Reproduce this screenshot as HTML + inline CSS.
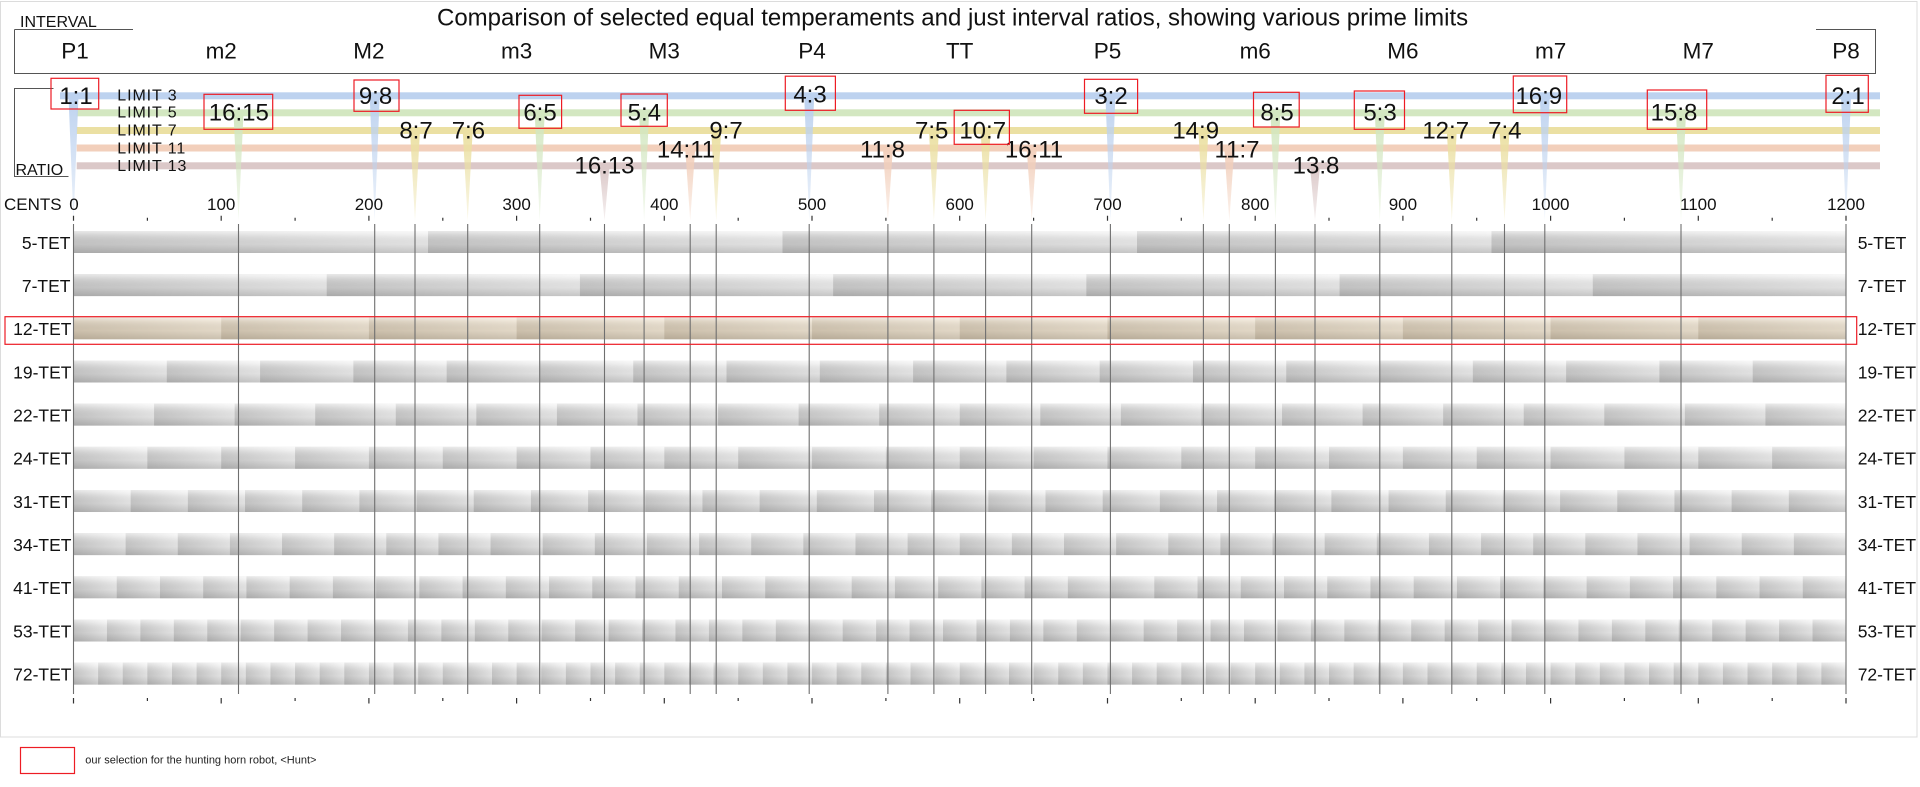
<!DOCTYPE html>
<html>
<head>
<meta charset="utf-8">
<style>
  html, body { margin:0; padding:0; background:#fff; }
  svg { display:block; }
  text { font-family: "Liberation Sans", Arial, sans-serif; fill:#111; }
</style>
</head>
<body>
<svg width="1920" height="787" viewBox="0 0 1920 787" xmlns="http://www.w3.org/2000/svg">
  <defs>
    <linearGradient id="g" x1="0" y1="1" x2="1" y2="0">
      <stop offset="0" stop-color="#b5b5b5"/>
      <stop offset="1" stop-color="#f4f4f4"/>
    </linearGradient>
    <linearGradient id="gb" x1="0" y1="1" x2="1" y2="0">
      <stop offset="0" stop-color="#c3b6a1"/>
      <stop offset="1" stop-color="#efe6d7"/>
    </linearGradient>
    <linearGradient id="gloss" x1="0" y1="0" x2="0" y2="1">
      <stop offset="0" stop-color="#ffffff" stop-opacity="0.45"/>
      <stop offset="0.18" stop-color="#ffffff" stop-opacity="0.1"/>
      <stop offset="0.6" stop-color="#000000" stop-opacity="0"/>
      <stop offset="1" stop-color="#000000" stop-opacity="0.07"/>
    </linearGradient>
    <linearGradient id="s3" x1="0" y1="0" x2="0" y2="1"><stop offset="0" stop-color="#bdd2ef"/><stop offset="1" stop-color="#bdd2ef" stop-opacity="0.25"/></linearGradient>
    <linearGradient id="s5" x1="0" y1="0" x2="0" y2="1"><stop offset="0" stop-color="#d3e7c1"/><stop offset="1" stop-color="#d3e7c1" stop-opacity="0.25"/></linearGradient>
    <linearGradient id="s7" x1="0" y1="0" x2="0" y2="1"><stop offset="0" stop-color="#ebe0a3"/><stop offset="1" stop-color="#ebe0a3" stop-opacity="0.25"/></linearGradient>
    <linearGradient id="s11" x1="0" y1="0" x2="0" y2="1"><stop offset="0" stop-color="#f2cfbb"/><stop offset="1" stop-color="#f2cfbb" stop-opacity="0.25"/></linearGradient>
    <linearGradient id="s13" x1="0" y1="0" x2="0" y2="1"><stop offset="0" stop-color="#dbc8c8"/><stop offset="1" stop-color="#dbc8c8" stop-opacity="0.25"/></linearGradient>

    <pattern id="p5" patternUnits="userSpaceOnUse" x="73.5" y="231" width="354.5" height="22"><rect width="354.5" height="22" fill="url(#g)"/></pattern>
    <pattern id="p7" patternUnits="userSpaceOnUse" x="73.5" y="274.17" width="253.214" height="22"><rect width="253.214" height="22" fill="url(#g)"/></pattern>
    <pattern id="p12" patternUnits="userSpaceOnUse" x="73.5" y="317.34" width="147.708" height="22"><rect width="147.708" height="22" fill="url(#gb)"/></pattern>
    <pattern id="p19" patternUnits="userSpaceOnUse" x="73.5" y="360.51" width="93.289" height="22"><rect width="93.289" height="22" fill="url(#g)"/></pattern>
    <pattern id="p22" patternUnits="userSpaceOnUse" x="73.5" y="403.68" width="80.568" height="22"><rect width="80.568" height="22" fill="url(#g)"/></pattern>
    <pattern id="p24" patternUnits="userSpaceOnUse" x="73.5" y="446.85" width="73.854" height="22"><rect width="73.854" height="22" fill="url(#g)"/></pattern>
    <pattern id="p31" patternUnits="userSpaceOnUse" x="73.5" y="490.02" width="57.177" height="22"><rect width="57.177" height="22" fill="url(#g)"/></pattern>
    <pattern id="p34" patternUnits="userSpaceOnUse" x="73.5" y="533.19" width="52.132" height="22"><rect width="52.132" height="22" fill="url(#g)"/></pattern>
    <pattern id="p41" patternUnits="userSpaceOnUse" x="73.5" y="576.36" width="43.232" height="22"><rect width="43.232" height="22" fill="url(#g)"/></pattern>
    <pattern id="p53" patternUnits="userSpaceOnUse" x="73.5" y="619.53" width="33.443" height="22"><rect width="33.443" height="22" fill="url(#g)"/></pattern>
    <pattern id="p72" patternUnits="userSpaceOnUse" x="73.5" y="662.7" width="24.618" height="22"><rect width="24.618" height="22" fill="url(#g)"/></pattern>
  </defs>

  <!-- outer frame -->
  <rect x="0.5" y="1.5" width="1916.5" height="735.5" fill="none" stroke="#dcdcdc" stroke-width="1"/>

  <!-- title -->
  <text x="437" y="25.5" font-size="24">Comparison of selected equal temperaments and just interval ratios, showing various prime limits</text>

  <!-- INTERVAL header -->
  <text x="20" y="27" font-size="16">INTERVAL</text>
  <path d="M14.5 29.5 H133 M14.5 29.5 V73.5 H1875.5 V29.5 H1816" fill="none" stroke="#555" stroke-width="1"/>
  <g font-size="22.5" text-anchor="middle">
    <text x="75" y="58.3">P1</text>
    <text x="221.2" y="58.3">m2</text>
    <text x="368.9" y="58.3">M2</text>
    <text x="516.6" y="58.3">m3</text>
    <text x="664.3" y="58.3">M3</text>
    <text x="812" y="58.3">P4</text>
    <text x="959.7" y="58.3">TT</text>
    <text x="1107.5" y="58.3">P5</text>
    <text x="1255.2" y="58.3">m6</text>
    <text x="1402.9" y="58.3">M6</text>
    <text x="1550.6" y="58.3">m7</text>
    <text x="1698.3" y="58.3">M7</text>
    <text x="1846" y="58.3">P8</text>
  </g>

  <!-- RATIO bracket -->
  <path d="M53.5 88.5 H14.5 V176.5 H68.5" fill="none" stroke="#555" stroke-width="1"/>
  <text x="15.5" y="175" font-size="16">RATIO</text>

  <!-- limit bands -->
  <rect x="60" y="92.3" width="1820" height="7" fill="#bdd2ef"/>
  <rect x="76.7" y="109.3" width="1803.3" height="7" fill="#d3e7c1"/>
  <rect x="76.7" y="127" width="1803.3" height="7" fill="#ebe0a3"/>
  <rect x="76.7" y="144.5" width="1803.3" height="7" fill="#f2cfbb"/>
  <rect x="76.7" y="162.3" width="1803.3" height="7" fill="#dbc8c8"/>

  <g font-size="16" letter-spacing="0.9">
    <text x="117.3" y="100.3">LIMIT 3</text>
    <text x="117.3" y="117.7">LIMIT 5</text>
    <text x="117.3" y="135.5">LIMIT 7</text>
    <text x="117.3" y="153.3">LIMIT 11</text>
    <text x="117.3" y="171">LIMIT 13</text>
  </g>

  <!-- spikes -->
  <g>
    <polygon points="68.5,96 78.5,96 73.5,221" fill="url(#s3)"/>
    <polygon points="233.5,113 243.5,113 238.5,221" fill="url(#s5)"/>
    <polygon points="369.7,96 379.7,96 374.7,221" fill="url(#s3)"/>
    <polygon points="410,130.5 420,130.5 415,221" fill="url(#s7)"/>
    <polygon points="462.7,130.5 472.7,130.5 467.7,221" fill="url(#s7)"/>
    <polygon points="534.7,113 544.7,113 539.7,221" fill="url(#s5)"/>
    <polygon points="599.5,166 609.5,166 604.5,221" fill="url(#s13)"/>
    <polygon points="639.1,113 649.1,113 644.1,221" fill="url(#s5)"/>
    <polygon points="685.2,148 695.2,148 690.2,221" fill="url(#s11)"/>
    <polygon points="711.2,130.5 721.2,130.5 716.2,221" fill="url(#s7)"/>
    <polygon points="804.2,96 814.2,96 809.2,221" fill="url(#s3)"/>
    <polygon points="882.9,148 892.9,148 887.9,221" fill="url(#s11)"/>
    <polygon points="928.9,130.5 938.9,130.5 933.9,221" fill="url(#s7)"/>
    <polygon points="980.6,130.5 990.6,130.5 985.6,221" fill="url(#s7)"/>
    <polygon points="1026.7,148 1036.7,148 1031.7,221" fill="url(#s11)"/>
    <polygon points="1105.4,96 1115.4,96 1110.4,221" fill="url(#s3)"/>
    <polygon points="1198.4,130.5 1208.4,130.5 1203.4,221" fill="url(#s7)"/>
    <polygon points="1224.3,148 1234.3,148 1229.3,221" fill="url(#s11)"/>
    <polygon points="1270.4,113 1280.4,113 1275.4,221" fill="url(#s5)"/>
    <polygon points="1310,166 1320,166 1315,221" fill="url(#s13)"/>
    <polygon points="1374.8,113 1384.8,113 1379.8,221" fill="url(#s5)"/>
    <polygon points="1446.8,130.5 1456.8,130.5 1451.8,221" fill="url(#s7)"/>
    <polygon points="1499.5,130.5 1509.5,130.5 1504.5,221" fill="url(#s7)"/>
    <polygon points="1539.8,96 1549.8,96 1544.8,221" fill="url(#s3)"/>
    <polygon points="1676,113 1686,113 1681,221" fill="url(#s5)"/>
    <polygon points="1841,96 1851,96 1846,221" fill="url(#s3)"/>
  </g>

  <!-- ratio labels -->
  <g font-size="24" text-anchor="middle">
    <text x="76" y="104">1:1</text>
    <text x="238.8" y="120.7">16:15</text>
    <text x="375.5" y="104">9:8</text>
    <text x="416" y="138.3">8:7</text>
    <text x="468.4" y="138.3">7:6</text>
    <text x="540" y="120.7">6:5</text>
    <text x="604.5" y="173.3">16:13</text>
    <text x="644.3" y="120.7">5:4</text>
    <text x="686" y="157.3">14:11</text>
    <text x="726" y="138.3">9:7</text>
    <text x="810" y="102.7">4:3</text>
    <text x="882.5" y="157.3">11:8</text>
    <text x="931.7" y="138.3">7:5</text>
    <text x="982.7" y="138.3">10:7</text>
    <text x="1034" y="157.3">16:11</text>
    <text x="1111" y="104">3:2</text>
    <text x="1195.7" y="138.3">14:9</text>
    <text x="1237" y="157.3">11:7</text>
    <text x="1277" y="120.7">8:5</text>
    <text x="1316" y="173.3">13:8</text>
    <text x="1380" y="120.7">5:3</text>
    <text x="1445.7" y="138.3">12:7</text>
    <text x="1504.8" y="138.3">7:4</text>
    <text x="1538.8" y="104">16:9</text>
    <text x="1674" y="120.7">15:8</text>
    <text x="1848" y="104">2:1</text>
  </g>

  <!-- red selection boxes (ratios) -->
  <g fill="none" stroke="#ed1c24" stroke-width="1.2">
    <rect x="51" y="78.3" width="47.7" height="30.7"/>
    <rect x="204" y="94.3" width="68.7" height="35"/>
    <rect x="354" y="80" width="45" height="31.3"/>
    <rect x="519" y="95.3" width="42.6" height="33"/>
    <rect x="621" y="94" width="46.3" height="32.3"/>
    <rect x="785.3" y="76.2" width="50.1" height="34.1"/>
    <rect x="954.2" y="110.3" width="55.2" height="34"/>
    <rect x="1084.5" y="79.3" width="53.1" height="34"/>
    <rect x="1253.5" y="92.3" width="45.7" height="34.7"/>
    <rect x="1354.3" y="91" width="50.2" height="38.3"/>
    <rect x="1513.3" y="76" width="53.4" height="36.7"/>
    <rect x="1647.3" y="90" width="59.4" height="39.3"/>
    <rect x="1826" y="75.3" width="42.3" height="37"/>
  </g>

  <!-- cents axis -->
  <text x="4" y="210" font-size="17">CENTS</text>
  <g font-size="17" text-anchor="middle">
    <text x="74" y="210">0</text>
    <text x="221.2" y="210">100</text>
    <text x="368.9" y="210">200</text>
    <text x="516.6" y="210">300</text>
    <text x="664.3" y="210">400</text>
    <text x="812" y="210">500</text>
    <text x="959.7" y="210">600</text>
    <text x="1107.5" y="210">700</text>
    <text x="1255.2" y="210">800</text>
    <text x="1402.9" y="210">900</text>
    <text x="1550.6" y="210">1000</text>
    <text x="1698.3" y="210">1100</text>
    <text x="1846" y="210">1200</text>
  </g>
  <g stroke="#333" stroke-width="1.2">
    <path d="M73.5 215.7V220.7 M221.2 215.7V220.7 M368.9 215.7V220.7 M516.6 215.7V220.7 M664.3 215.7V220.7 M812 215.7V220.7 M959.7 215.7V220.7 M1107.5 215.7V220.7 M1255.2 215.7V220.7 M1402.9 215.7V220.7 M1550.6 215.7V220.7 M1698.3 215.7V220.7 M1846 215.7V220.7"/>
    <path d="M147.4 217.7V220.7 M295.1 217.7V220.7 M442.8 217.7V220.7 M590.5 217.7V220.7 M738.2 217.7V220.7 M885.9 217.7V220.7 M1033.6 217.7V220.7 M1181.3 217.7V220.7 M1329 217.7V220.7 M1476.7 217.7V220.7 M1624.4 217.7V220.7 M1772.2 217.7V220.7"/>
    <path d="M73.5 698V703.5 M221.2 698V703.5 M368.9 698V703.5 M516.6 698V703.5 M664.3 698V703.5 M812 698V703.5 M959.7 698V703.5 M1107.5 698V703.5 M1255.2 698V703.5 M1402.9 698V703.5 M1550.6 698V703.5 M1698.3 698V703.5 M1846 698V703.5"/>
    <path d="M147.4 698V701 M295.1 698V701 M442.8 698V701 M590.5 698V701 M738.2 698V701 M885.9 698V701 M1033.6 698V701 M1181.3 698V701 M1329 698V701 M1476.7 698V701 M1624.4 698V701 M1772.2 698V701"/>
  </g>

  <!-- TET bars -->
  <g>
    <rect x="73.5" y="231" width="1772.5" height="22" fill="url(#p5)"/>
    <rect x="73.5" y="274.17" width="1772.5" height="22" fill="url(#p7)"/>
    <rect x="73.5" y="317.34" width="1772.5" height="22" fill="url(#p12)"/>
    <rect x="73.5" y="360.51" width="1772.5" height="22" fill="url(#p19)"/>
    <rect x="73.5" y="403.68" width="1772.5" height="22" fill="url(#p22)"/>
    <rect x="73.5" y="446.85" width="1772.5" height="22" fill="url(#p24)"/>
    <rect x="73.5" y="490.02" width="1772.5" height="22" fill="url(#p31)"/>
    <rect x="73.5" y="533.19" width="1772.5" height="22" fill="url(#p34)"/>
    <rect x="73.5" y="576.36" width="1772.5" height="22" fill="url(#p41)"/>
    <rect x="73.5" y="619.53" width="1772.5" height="22" fill="url(#p53)"/>
    <rect x="73.5" y="662.7" width="1772.5" height="22" fill="url(#p72)"/>
  </g>
  <g fill="url(#gloss)">
    <rect x="73.5" y="231" width="1772.5" height="22"/>
    <rect x="73.5" y="274.17" width="1772.5" height="22"/>
    <rect x="73.5" y="317.34" width="1772.5" height="22"/>
    <rect x="73.5" y="360.51" width="1772.5" height="22"/>
    <rect x="73.5" y="403.68" width="1772.5" height="22"/>
    <rect x="73.5" y="446.85" width="1772.5" height="22"/>
    <rect x="73.5" y="490.02" width="1772.5" height="22"/>
    <rect x="73.5" y="533.19" width="1772.5" height="22"/>
    <rect x="73.5" y="576.36" width="1772.5" height="22"/>
    <rect x="73.5" y="619.53" width="1772.5" height="22"/>
    <rect x="73.5" y="662.7" width="1772.5" height="22"/>
  </g>

  <!-- row labels -->
  <g font-size="17.5" text-anchor="end">
    <text x="70.5" y="248.8">5-TET</text>
    <text x="70.5" y="292">7-TET</text>
    <text x="71.5" y="335.2">12-TET</text>
    <text x="71.5" y="378.3">19-TET</text>
    <text x="71.5" y="421.5">22-TET</text>
    <text x="71.5" y="464.7">24-TET</text>
    <text x="71.5" y="507.8">31-TET</text>
    <text x="71.5" y="551">34-TET</text>
    <text x="71.5" y="594.2">41-TET</text>
    <text x="71.5" y="637.3">53-TET</text>
    <text x="71.5" y="680.5">72-TET</text>
  </g>
  <g font-size="17.5">
    <text x="1857.7" y="248.8">5-TET</text>
    <text x="1857.7" y="292">7-TET</text>
    <text x="1857.7" y="335.2">12-TET</text>
    <text x="1857.7" y="378.3">19-TET</text>
    <text x="1857.7" y="421.5">22-TET</text>
    <text x="1857.7" y="464.7">24-TET</text>
    <text x="1857.7" y="507.8">31-TET</text>
    <text x="1857.7" y="551">34-TET</text>
    <text x="1857.7" y="594.2">41-TET</text>
    <text x="1857.7" y="637.3">53-TET</text>
    <text x="1857.7" y="680.5">72-TET</text>
  </g>

  <!-- ratio lines -->
  <g stroke="#6f6f6f" stroke-width="1.1">
    <path d="M73.5 224V694 M238.5 224V694 M374.7 224V694 M415 224V694 M467.7 224V694 M539.7 224V694 M604.5 224V694 M644.1 224V694 M690.2 224V694 M716.2 224V694 M809.2 224V694 M887.9 224V694 M933.9 224V694 M985.6 224V694 M1031.7 224V694 M1110.4 224V694 M1203.4 224V694 M1229.3 224V694 M1275.4 224V694 M1315 224V694 M1379.8 224V694 M1451.8 224V694 M1504.5 224V694 M1544.8 224V694 M1681 224V694 M1846 224V694"/>
  </g>

  <!-- 12-TET selection box -->
  <rect x="5" y="316.7" width="1851.7" height="27.6" fill="none" stroke="#ed1c24" stroke-width="1.2"/>

  <!-- legend -->
  <rect x="20.5" y="747.5" width="54" height="26" fill="none" stroke="#ed1c24" stroke-width="1.2"/>
  <text x="85.3" y="763.5" font-size="11" style="fill:#222">our selection for the hunting horn robot, &lt;Hunt&gt;</text>
</svg>
</body>
</html>
